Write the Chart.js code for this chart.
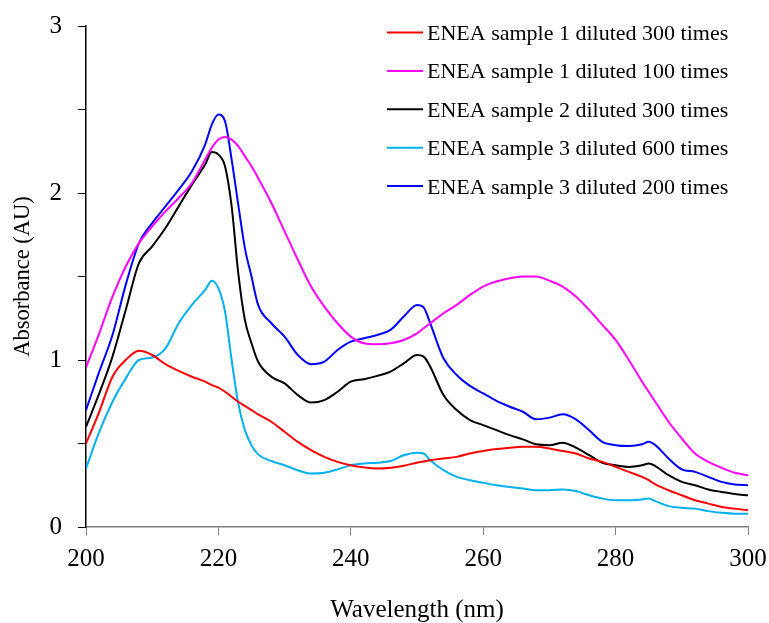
<!DOCTYPE html>
<html>
<head>
<meta charset="utf-8">
<script src="https://cdn.jsdelivr.net/npm/chart.js@4.4.1/dist/chart.umd.min.js"></script>
<style>
  html, body { margin: 0; padding: 0; background: #fff; }
  #wrap { width: 769px; height: 623px; }
</style>
</head>
<body>
<div id="wrap"><canvas id="chart" width="769" height="623"></canvas></div>
<script>
// wavelength (nm) of each reading
const wavelengths = [
  200, 202, 204, 206, 208, 210, 212, 214, 216, 218,
  219, 220, 221, 222, 223, 224, 225, 226,
  228, 230, 232, 234, 236, 238, 240, 242, 244, 246, 248, 250,
  251,
  252, 254, 256, 258, 260, 262, 264, 266, 268, 270, 272, 274, 276, 278, 280, 282, 284,
  285,
  286, 288, 290, 292, 294, 296, 298, 300
];

// absorbance (AU)
const sample1x300 = [
  0.50, 0.69, 0.90, 1.00, 1.055, 1.03, 0.975, 0.935, 0.90, 0.87,
  0.85, 0.835, 0.81, 0.78, 0.75, 0.725, 0.70, 0.675,
  0.63, 0.57, 0.51, 0.46, 0.42, 0.39, 0.37, 0.357, 0.35, 0.355, 0.367, 0.385,
  0.392,
  0.40, 0.41, 0.42, 0.44, 0.455, 0.467, 0.475, 0.48, 0.48, 0.47, 0.455, 0.44, 0.41, 0.39, 0.36, 0.33, 0.30,
  0.28,
  0.255, 0.22, 0.19, 0.16, 0.14, 0.12, 0.11, 0.10
];
const sample1x100 = [
  0.955, 1.16, 1.38, 1.56, 1.70, 1.80, 1.89, 1.97, 2.06, 2.20,
  2.27, 2.32, 2.335, 2.32, 2.28, 2.22, 2.16, 2.09,
  1.94, 1.77, 1.60, 1.44, 1.32, 1.22, 1.14, 1.10, 1.094, 1.10, 1.12, 1.16,
  1.19,
  1.22, 1.28, 1.33, 1.39, 1.44, 1.47, 1.49, 1.50, 1.50, 1.475, 1.44, 1.38, 1.30, 1.21, 1.12, 1.00, 0.87,
  0.81,
  0.75, 0.63, 0.53, 0.44, 0.39, 0.355, 0.325, 0.31
];
const sample2x300 = [
  0.60, 0.80, 1.02, 1.30, 1.58, 1.68, 1.79, 1.92, 2.05, 2.17,
  2.245, 2.23, 2.16, 1.92, 1.52, 1.24, 1.10, 0.99,
  0.90, 0.86, 0.79, 0.745, 0.76, 0.81, 0.87, 0.885, 0.905, 0.93, 0.98, 1.03,
  1.02,
  0.96, 0.79, 0.70, 0.64, 0.61, 0.58, 0.55, 0.525, 0.495, 0.49, 0.505, 0.475, 0.43, 0.385, 0.37, 0.36, 0.37,
  0.38,
  0.365, 0.31, 0.27, 0.25, 0.225, 0.21, 0.197, 0.19
];
const sample3x600 = [
  0.35, 0.57, 0.75, 0.89, 1.00, 1.015, 1.07, 1.22, 1.33, 1.42,
  1.475, 1.43, 1.29, 1.00, 0.74, 0.58, 0.49, 0.435,
  0.395, 0.37, 0.34, 0.32, 0.325, 0.345, 0.37, 0.38, 0.385, 0.395, 0.43, 0.445,
  0.44,
  0.40, 0.34, 0.30, 0.28, 0.265, 0.25, 0.24, 0.23, 0.22, 0.22, 0.225, 0.215, 0.19, 0.17, 0.16, 0.16, 0.165,
  0.17,
  0.155, 0.125, 0.115, 0.11, 0.095, 0.085, 0.08, 0.08
];
const sample3x200 = [
  0.70, 0.93, 1.15, 1.45, 1.70, 1.82, 1.92, 2.02, 2.13, 2.29,
  2.41, 2.47, 2.43, 2.20, 1.93, 1.67, 1.50, 1.33,
  1.22, 1.14, 1.03, 0.975, 0.99, 1.06, 1.11, 1.13, 1.15, 1.18, 1.26, 1.33,
  1.315,
  1.22, 1.01, 0.91, 0.845, 0.80, 0.755, 0.72, 0.69, 0.645, 0.655, 0.675, 0.645, 0.58, 0.51, 0.49, 0.485, 0.495,
  0.51,
  0.49, 0.41, 0.345, 0.33, 0.30, 0.27, 0.255, 0.25
];

const seriesNames = [
  'ENEA sample 1 diluted 300 times',
  'ENEA sample 1 diluted 100 times',
  'ENEA sample 2 diluted 300 times',
  'ENEA sample 3 diluted 600 times',
  'ENEA sample 3 diluted 200 times'
];
const seriesColors = ['#ff0000', '#ff00ff', '#000000', '#00b0f0', '#0000ff'];
const yTickLabels = [0, 1, 2, 3];

const serif = '"Liberation Serif", "Times New Roman", serif';
const allSeries = [sample1x300, sample1x100, sample2x300, sample3x600, sample3x200];

const datasets = allSeries.map((vals, i) => ({
  label: seriesNames[i],
  data: wavelengths.map((w, j) => ({ x: w, y: vals[j] })),
  borderColor: seriesColors[i],
  borderWidth: 2,
  pointRadius: 0,
  fill: false,
  cubicInterpolationMode: 'monotone'
}));

// legend drawn inside the plot, top right
const insideLegend = {
  id: 'insideLegend',
  afterDraw(chart) {
    const ctx = chart.ctx;
    const area = chart.chartArea;
    ctx.save();
    ctx.font = '22px ' + serif;
    ctx.textBaseline = 'alphabetic';
    chart.data.datasets.forEach((ds, i) => {
      const y = area.top + 6.5 + i * 38.4;
      ctx.strokeStyle = ds.borderColor;
      ctx.lineWidth = 2;
      ctx.beginPath();
      ctx.moveTo(387, y);
      ctx.lineTo(423, y);
      ctx.stroke();
      ctx.fillStyle = '#000';
      ctx.fillText(ds.label, 427, y + 7.5);
    });
    ctx.restore();
  }
};

new Chart(document.getElementById('chart'), {
  type: 'line',
  data: { datasets },
  plugins: [insideLegend],
  options: {
    responsive: false,
    animation: false,
    layout: { padding: { left: 0, right: 21, top: 26, bottom: 0 } },
    plugins: { legend: { display: false }, tooltip: { enabled: false } },
    scales: {
      x: {
        type: 'linear',
        min: 200,
        max: 300,
        ticks: { stepSize: 20, color: '#000', font: { family: serif, size: 25 }, padding: 9, maxRotation: 0 },
        grid: { drawOnChartArea: false, drawTicks: true, tickLength: 8, color: '#808080', tickColor: '#808080' },
        border: { color: '#808080', width: 1.5 },
        title: {
          display: true, text: 'Wavelength (nm)', color: '#000',
          font: { family: serif, size: 25, lineHeight: 1 }, padding: { top: 0, bottom: 0 }
        },
        afterFit(scale) {
          scale.height = 96;
          scale.paddingLeft = 0;
          scale.paddingRight = 0;
        }
      },
      y: {
        min: 0,
        max: 3,
        ticks: {
          stepSize: 0.5, color: '#000', font: { family: serif, size: 25 }, padding: 16,
          callback: v => yTickLabels.includes(v) ? String(v) : ''
        },
        grid: { drawOnChartArea: false, drawTicks: true, tickLength: 8, color: '#000', tickColor: '#000' },
        border: { color: '#000', width: 1.5 },
        title: {
          display: true, text: 'Absorbance (AU)', color: '#000',
          font: { family: serif, size: 22.5, lineHeight: 1 }, padding: { top: 12, bottom: 0 }
        },
        afterFit(scale) {
          scale.width = 86;
          scale.paddingTop = 0;
          scale.paddingBottom = 0;
        }
      }
    }
  }
});
</script>
</body>
</html>
